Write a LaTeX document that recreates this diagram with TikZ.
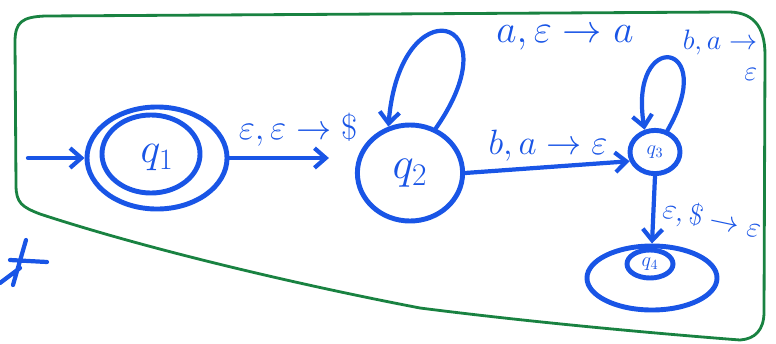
\RequirePackage{fix-cm}
\documentclass[tikz,border=0pt]{standalone}
\usetikzlibrary{shapes.geometric,arrows.meta}
\definecolor{pen}{RGB}{25,85,230}
\definecolor{frame}{RGB}{25,130,65}
\tikzset{
  state/.style={draw=pen, line width=3.5pt, ellipse, inner sep=0pt, text=pen},
  trans/.style={draw=pen, line width=3pt, line cap=round, -{Straight Barb[length=8pt,width=14pt]}},
  lab/.style={text=pen, inner sep=1pt},
}
\begin{document}
\begin{tikzpicture}[x=0.025cm, y=-0.025cm, every node/.style={font=\fontsize{25}{28}\selectfont}]
  \useasboundingbox (0,0) rectangle (776,343);
  % outline round the machine
  \draw[frame, line width=2pt] (40,214) .. controls (22,207) and (16,203) .. (16,185)
    -- (15,42) .. controls (15,22) and (22,17) .. (45,16) -- (725,12)
    .. controls (752,11) and (765,25) .. (765,55) -- (764,312)
    .. controls (764,330) and (755,339) .. (740,340)
    .. controls (650,333) and (530,322) .. (420,308)
    .. controls (300,285) and (150,250) .. (40,214);
  % states
  \node[state, minimum width=3.5cm, minimum height=2.55cm, font=\fontsize{30}{32}\selectfont] (q1) at (157,158) {$q_1$};
  \node[state, minimum width=2.45cm, minimum height=1.95cm] (q1in) at (151,154) {};
  \node[state, minimum width=2.63cm, minimum height=2.4cm, font=\fontsize{32}{34}\selectfont] (q2) at (410,173) {$q_2$};
  \node[state, minimum width=1.25cm, minimum height=1.08cm, font=\Large] (q3) at (655,152) {$q_3$};
  \node[state, minimum width=3.25cm, minimum height=1.6cm] (q4) at (652,278) {};
  \node[state, minimum width=1.15cm, minimum height=0.7cm, font=\Large] (q4in) at (650,264) {$q_4$};
  \coordinate (start) at (28,158);
  % transitions
  \draw[trans] (start) -- (q1);
  \draw[trans] (q1.east) -- ([xshift=-0.65cm]q2.west |- q1.east);
  \draw[trans] (q2.60) .. controls (515,15) and (400,-15) .. (q2.115);
  \draw[trans] (q2.east) -- (q3.200);
  \draw[trans] (q3.60) .. controls (720,40) and (628,28) .. (q3.115);
  \draw[trans] (q3.south) -- (q4.north);
  % labels
  \node[lab] (l12) at (298,130) {$\varepsilon, \varepsilon \to \$$};
  \node[lab, font=\fontsize{28}{30}\selectfont] (l22) at (565,38) {$a, \varepsilon \to a$};
  \node[lab] (l23) at (548,146) {$b, a \to \varepsilon$};
  \node[lab, align=right, font=\fontsize{20}{22}\selectfont] (l33) at (720,55) {$b, a \to$\\$\varepsilon$};
  \node[lab, rotate=-12, font=\fontsize{21}{24}\selectfont] (l34) at (712,220) {$\varepsilon, \$ \to \varepsilon$};
  % stray mark
  \draw[pen, line width=3pt, line cap=round] (26,240) -- (13,285) (10,260) -- (47,262) (0,283) -- (20,268);
\end{tikzpicture}
\end{document}
